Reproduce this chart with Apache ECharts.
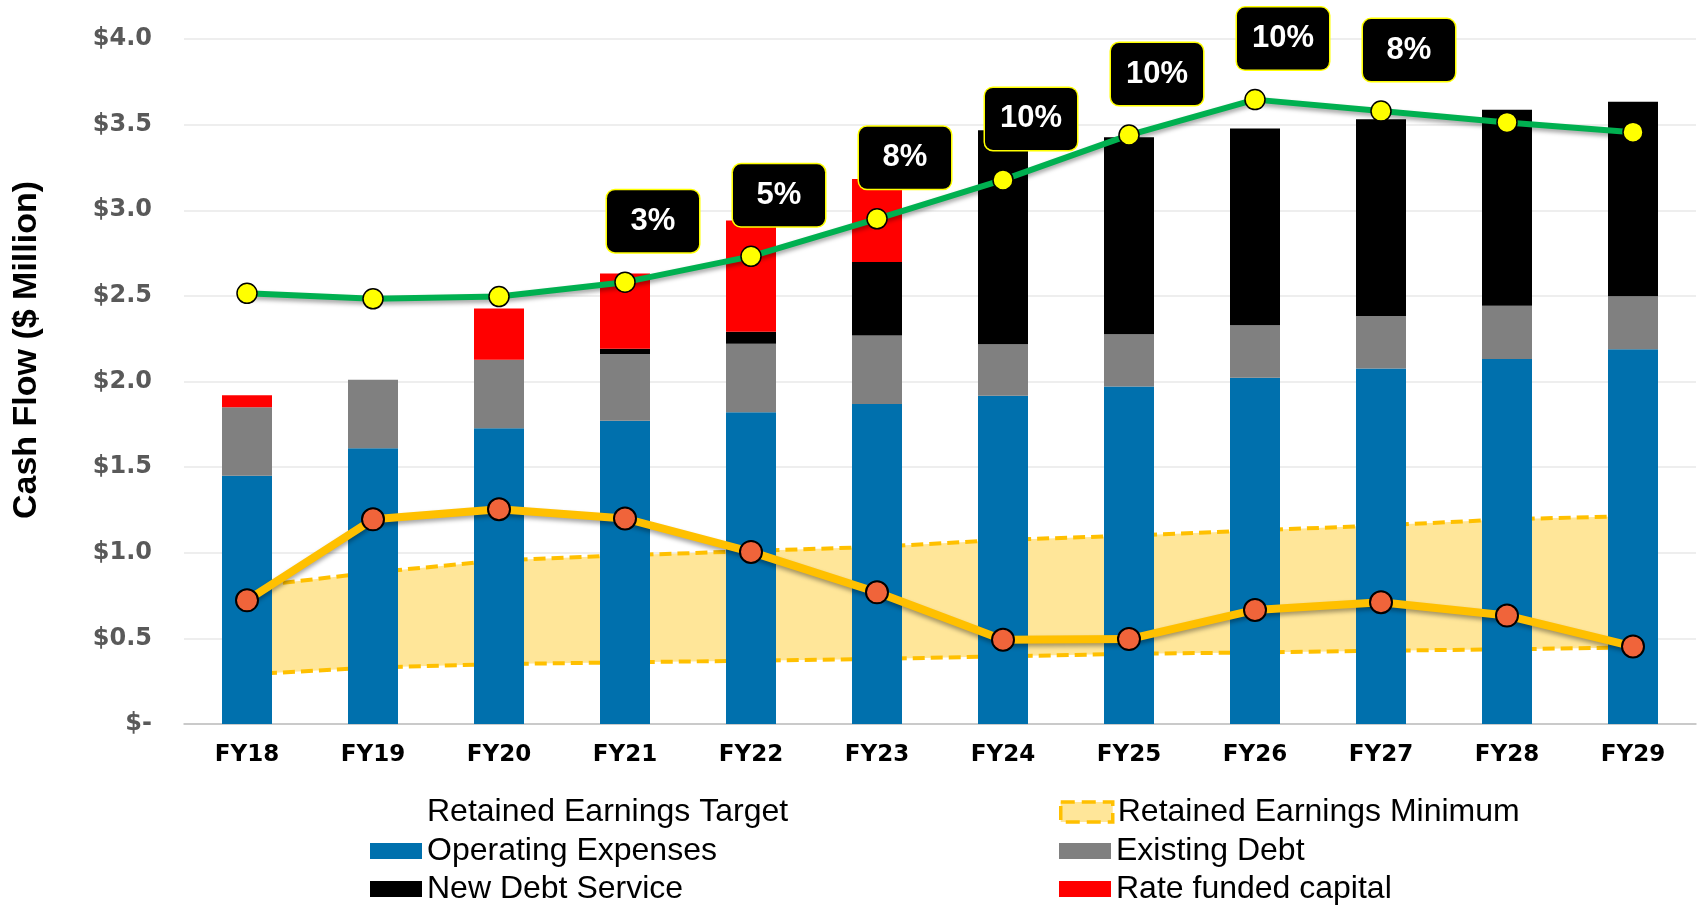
<!DOCTYPE html>
<html>
<head>
<meta charset="utf-8">
<script src="https://cdn.jsdelivr.net/npm/echarts@6/dist/echarts.min.js"></script>
<style>
html,body{margin:0;padding:0;background:#fff;}
#chart{width:1700px;height:909px;}
</style>
</head>
<body>
<div id="chart"></div>
<script>
// ---- data ----
const categories = ['FY18','FY19','FY20','FY21','FY22','FY23','FY24','FY25','FY26','FY27','FY28','FY29'];
const operatingExpenses = [1.45, 1.61, 1.727, 1.771, 1.82, 1.868, 1.917, 1.971, 2.022, 2.076, 2.132, 2.188];
const existingDebt      = [0.40, 0.40, 0.40, 0.39, 0.40, 0.40, 0.30, 0.305, 0.306, 0.306, 0.31, 0.31];
const newDebtService    = [0, 0, 0, 0.03, 0.07, 0.43, 1.25, 1.15, 1.15, 1.15, 1.145, 1.135];
const rateFundedCapital = [0.07, 0, 0.30, 0.44, 0.65, 0.485, 0, 0, 0, 0, 0, 0];
const revenue           = [2.515, 2.483, 2.496, 2.58, 2.731, 2.95, 3.177, 3.439, 3.646, 3.579, 3.513, 3.456];
const rateIncrease      = ['', '', '', '3%', '5%', '8%', '10%', '10%', '10%', '8%', '', ''];
const retainedEarnings  = [0.722, 1.195, 1.254, 1.20, 1.005, 0.769, 0.492, 0.496, 0.666, 0.711, 0.633, 0.453];
const bandLower         = [0.29, 0.33, 0.35, 0.36, 0.37, 0.38, 0.395, 0.41, 0.418, 0.428, 0.436, 0.447];
const bandUpper         = [0.80, 0.885, 0.955, 0.985, 1.01, 1.035, 1.075, 1.10, 1.13, 1.16, 1.195, 1.215];
const yTickLabels = {0:'$-', 0.5:'$0.5', 1:'$1.0', 1.5:'$1.5', 2:'$2.0', 2.5:'$2.5', 3:'$3.0', 3.5:'$3.5', 4:'$4.0'};

const bandDiff = bandUpper.map((u, i) => +(u - bandLower[i]).toFixed(4));
const revenueData = revenue.map((v, i) => rateIncrease[i] ? {value: v, label: {show: true, formatter: rateIncrease[i]}} : v);

const chart = echarts.init(document.getElementById('chart'), null, {renderer: 'canvas'});
const legendText = {fontFamily: 'Liberation Sans, Arial, sans-serif', fontSize: 32, color: '#000'};
const legendBase = {itemWidth: 52, itemHeight: 16, icon: 'rect', textStyle: legendText, selectedMode: false, padding: 0};

chart.setOption({
  animation: false,
  backgroundColor: '#fff',
  grid: {left: 184, right: 4, top: 39, bottom: 185, containLabel: false},
  xAxis: {
    type: 'category', data: categories,
    axisTick: {show: false},
    axisLine: {lineStyle: {color: '#BFBFBF', width: 1.5}},
    axisLabel: {fontFamily: 'DejaVu Sans, Verdana, sans-serif', fontWeight: 'bold', fontSize: 23, color: '#000', margin: 20}
  },
  yAxis: {
    type: 'value', min: 0, max: 4, interval: 0.5,
    axisLine: {show: false}, axisTick: {show: false},
    splitLine: {lineStyle: {color: '#E8E8E8', width: 1.5}},
    axisLabel: {fontFamily: 'DejaVu Sans, Verdana, sans-serif', fontWeight: 'bold', fontSize: 24, color: '#595959', margin: 32,
      formatter: v => yTickLabels[v] !== undefined ? yTickLabels[v] : ''}
  },
  graphic: [{
    type: 'text', x: 27, y: 350, rotation: Math.PI / 2,
    style: {text: 'Cash Flow ($ Million)', fontFamily: 'Liberation Sans, Arial, sans-serif', fontWeight: 'bold', fontSize: 34,
      fill: '#000', textAlign: 'center', textVerticalAlign: 'middle'}
  }],
  legend: [
    Object.assign({}, legendBase, {left: 370, top: 796, data: [{name: 'Retained Earnings Target', itemStyle: {opacity: 0}, lineStyle: {opacity: 0}}]}),
    Object.assign({}, legendBase, {left: 1059, top: 796, itemHeight: 20, data: [{name: 'Retained Earnings Minimum', itemStyle: {color: '#FFE699', borderColor: '#FFC000', borderWidth: 3.5, borderType: 'dashed'}}]}),
    Object.assign({}, legendBase, {left: 370, top: 835, data: ['Operating Expenses']}),
    Object.assign({}, legendBase, {left: 1059, top: 835, data: ['Existing Debt']}),
    Object.assign({}, legendBase, {left: 370, top: 873, data: ['New Debt Service']}),
    Object.assign({}, legendBase, {left: 1059, top: 873, data: ['Rate funded capital']})
  ],
  series: [
    {name: 'Retained Earnings Target', type: 'line', stack: 'band', data: bandLower, z: 1, symbol: 'none',
      lineStyle: {color: '#FFC000', width: 4, type: [12, 6]}, itemStyle: {color: '#FFC000'}},
    {name: 'Retained Earnings Minimum', type: 'line', stack: 'band', data: bandDiff, z: 1, symbol: 'none',
      lineStyle: {color: '#FFC000', width: 4, type: [12, 6]}, itemStyle: {color: '#FFE699'},
      areaStyle: {color: '#FFE699', opacity: 1}},
    {name: 'Operating Expenses', type: 'bar', stack: 'bars', data: operatingExpenses, barWidth: 50, z: 2, itemStyle: {color: '#0070AD'}},
    {name: 'Existing Debt', type: 'bar', stack: 'bars', data: existingDebt, barWidth: 50, z: 2, itemStyle: {color: '#808080'}},
    {name: 'New Debt Service', type: 'bar', stack: 'bars', data: newDebtService, barWidth: 50, z: 2, itemStyle: {color: '#000000'}},
    {name: 'Rate funded capital', type: 'bar', stack: 'bars', data: rateFundedCapital, barWidth: 50, z: 2, itemStyle: {color: '#FF0000'}},
    {name: 'Revenue', type: 'line', data: revenueData, z: 5, symbol: 'circle', symbolSize: 20,
      lineStyle: {color: '#00B050', width: 6, shadowColor: 'rgba(0,0,0,0.35)', shadowBlur: 4, shadowOffsetY: 3},
      itemStyle: {color: '#FFFF00', borderColor: '#000', borderWidth: 1.5},
      label: {show: false, position: 'inside', offset: [28, -61], color: '#fff', fontFamily: 'Liberation Sans, Arial, sans-serif',
        fontWeight: 'bold', fontSize: 31, backgroundColor: '#000', borderColor: '#FFFF00', borderWidth: 1.5, borderRadius: 8,
        width: 60, height: 32, lineHeight: 32, align: 'center', verticalAlign: 'middle', padding: [15, 16, 15, 16]}},
    {name: 'Retained Earnings', type: 'line', data: retainedEarnings, z: 6, symbol: 'circle', symbolSize: 22,
      lineStyle: {color: '#FFC000', width: 8, shadowColor: 'rgba(0,0,0,0.35)', shadowBlur: 4, shadowOffsetY: 3},
      itemStyle: {color: '#F0643A', borderColor: '#000', borderWidth: 2}}
  ]
});
</script>
</body>
</html>
